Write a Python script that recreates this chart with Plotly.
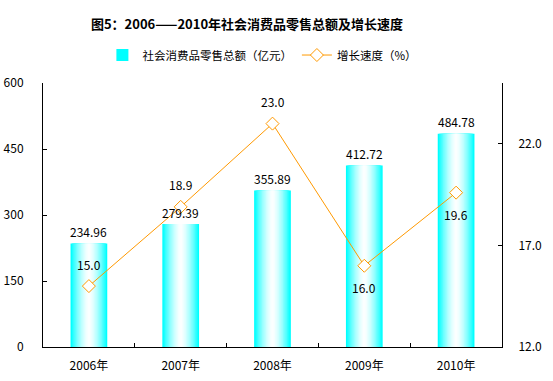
import plotly.graph_objects as go

years = ["2006年", "2007年", "2008年", "2009年", "2010年"]
sales = [234.96, 279.39, 355.89, 412.72, 484.78]
growth = [15.0, 18.9, 23.0, 16.0, 19.6]
growth_pos = ["above", "above", "above", "below", "below"]

title = "图5：2006——2010年社会消费品零售总额及增长速度"
bar_name = "社会消费品零售总额（亿元）"
line_name = "增长速度（%）"

FONT = "Noto Sans CJK SC"
ORANGE = "#FF9900"

fig = go.Figure()

# gradient bars: overlaid layers from cyan edge to white center
N = 14
full_w = 0.40
for i in range(N):
    t = 1 - i / N  # 1 at outer edge, ->0 center
    w = full_w * t
    r = int(round(255 * (1 - t ** 1.6)))
    color = f"rgb({r},255,255)"
    fig.add_trace(go.Bar(
        x=years, y=sales, width=w,
        marker=dict(color=color, line=dict(width=0)),
        name=bar_name, showlegend=(i == 0),
        hoverinfo="skip" if i else None,
        yaxis="y",
    ))

fig.add_trace(go.Scatter(
    x=years, y=growth, mode="lines+markers", name=line_name,
    line=dict(color=ORANGE, width=1),
    marker=dict(symbol="diamond", size=10, color="white",
                line=dict(color=ORANGE, width=1)),
    yaxis="y2",
))

annotations = []
for x, v in zip(years, sales):
    annotations.append(dict(x=x, y=v, xref="x", yref="y", text=f"{v:.2f}",
                            showarrow=False, yshift=12,
                            font=dict(family=FONT, size=12, color="black")))
for x, v, p in zip(years, growth, growth_pos):
    annotations.append(dict(x=x, y=v, xref="x", yref="y2", text=f"{v:.1f}",
                            showarrow=False, yshift=22 if p == "above" else -22,
                            font=dict(family=FONT, size=12, color="black")))

fig.update_layout(
    width=553, height=381,
    margin=dict(l=43, r=51, t=83, b=34),
    paper_bgcolor="white", plot_bgcolor="white",
    barmode="overlay",
    font=dict(family=FONT, size=12, color="black"),
    title=dict(text=f"<b>{title}</b>", x=247 / 553, xanchor="center",
               xref="container", y=1 - 24 / 381, yanchor="middle",
               yref="container", font=dict(family=FONT, size=13, color="black")),
    legend=dict(orientation="h", x=0.478, xanchor="center", y=1.106,
                yanchor="middle", font=dict(family=FONT, size=11.5),
                bgcolor="rgba(0,0,0,0)", itemwidth=30),
    xaxis=dict(type="category", range=[-0.5, 4.5], autorange=False,
               automargin=False,
               showline=True, linecolor="black", linewidth=1,
               ticks="inside", tickson="boundaries", ticklen=4,
               tickcolor="black", showgrid=False, zeroline=False,
               ticklabelstandoff=8),
    yaxis=dict(range=[0, 600], tickvals=[0, 150, 300, 450, 600],
               automargin=False,
               showline=True, linecolor="black", linewidth=1,
               ticks="inside", ticklen=4, tickcolor="black",
               showgrid=False, zeroline=False, ticklabelstandoff=16),
    yaxis2=dict(range=[12, 25], tickvals=[12, 17, 22], tickformat=".1f",
                automargin=False,
                overlaying="y", side="right",
                showline=True, linecolor="black", linewidth=1,
                ticks="inside", ticklen=4, tickcolor="black",
                showgrid=False, zeroline=False, ticklabelstandoff=13),
    annotations=annotations,
)

fig.write_html("out.html")
